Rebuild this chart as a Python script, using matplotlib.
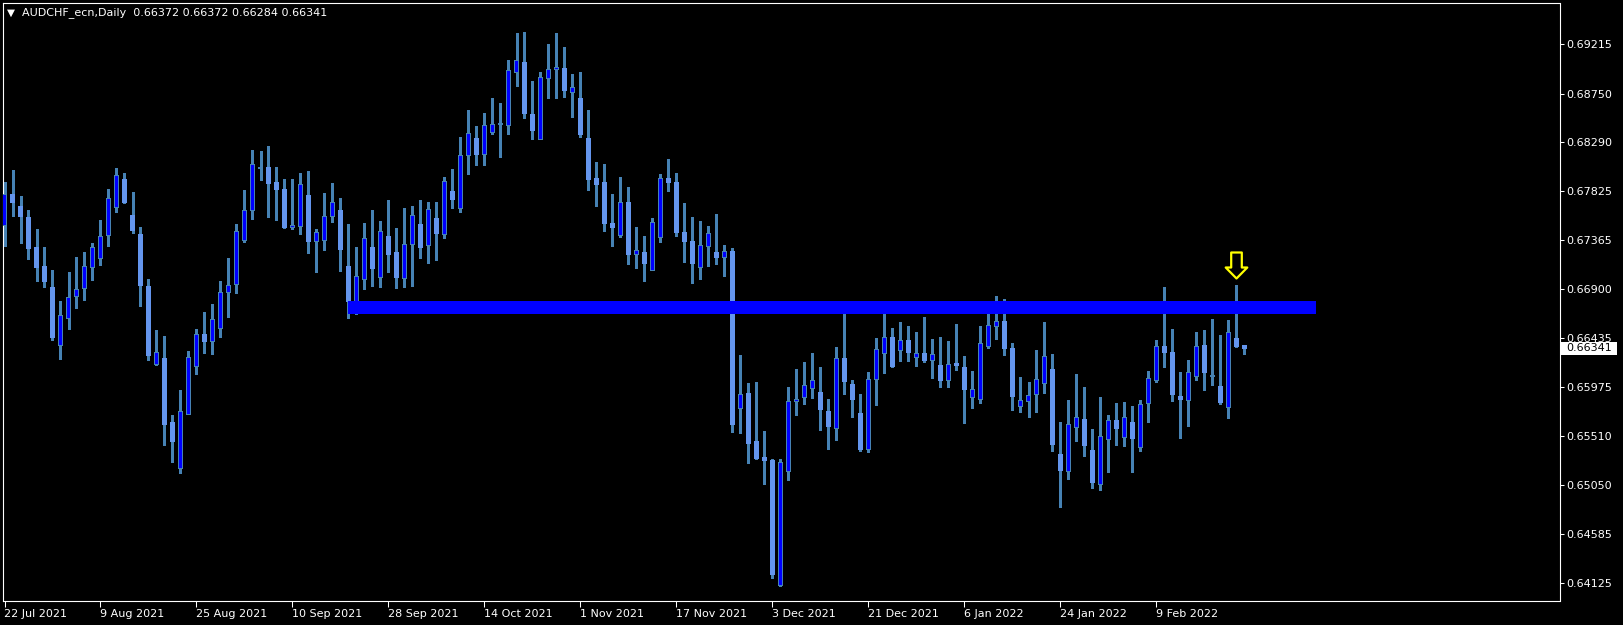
import numpy as np
import matplotlib
matplotlib.use("Agg")
import matplotlib.pyplot as plt
from matplotlib.patches import Rectangle
from matplotlib.path import Path
from matplotlib.transforms import IdentityTransform

symbol = "AUDCHF_ecn,Daily"

opens = [0.67501, 0.67792, 0.67687, 0.67583, 0.67290, 0.67119, 0.66921, 0.66370, 0.66621, 0.66830,
         0.66908, 0.67107, 0.67189, 0.67406, 0.67675, 0.67940, 0.67599, 0.67413, 0.66930, 0.66189,
         0.66246, 0.65641, 0.65208, 0.65716, 0.66170, 0.66473, 0.66408, 0.66530, 0.66871, 0.66946,
         0.67363, 0.67646, 0.68049, 0.68056, 0.67905, 0.67839, 0.67486, 0.67492, 0.67782, 0.67354,
         0.67363, 0.67589, 0.67646, 0.67119, 0.66782, 0.66994, 0.67297, 0.67013, 0.67403, 0.67243,
         0.67003, 0.67325, 0.67508, 0.67316, 0.67573, 0.67419, 0.67820, 0.67665, 0.68167, 0.68321,
         0.68176, 0.68380, 0.68466, 0.68447, 0.68952, 0.69040, 0.68557, 0.68318, 0.68895, 0.68980,
         0.68992, 0.68763, 0.68700, 0.68330, 0.67943, 0.67905, 0.67517, 0.67406, 0.67716, 0.67230,
         0.67249, 0.67079, 0.67387, 0.67943, 0.67911, 0.67441, 0.67347, 0.67107, 0.67306, 0.67249,
         0.67202, 0.67259, 0.65773, 0.65909, 0.65455, 0.65313, 0.65284, 0.64102, 0.65178, 0.65840,
         0.65878, 0.65959, 0.65925, 0.65745, 0.65581, 0.66249, 0.66003, 0.65729, 0.65382, 0.66046,
         0.66294, 0.66445, 0.66322, 0.66417, 0.66252, 0.66294, 0.66227, 0.66183, 0.66038, 0.66199,
         0.66161, 0.65878, 0.65855, 0.66357, 0.66549, 0.66590, 0.66344, 0.65789, 0.65836, 0.65906,
         0.66006, 0.66145, 0.65341, 0.65174, 0.65590, 0.65669, 0.65370, 0.65051, 0.65476, 0.65654,
         0.65495, 0.65635, 0.65401, 0.65817, 0.66034, 0.66354, 0.66297, 0.65881, 0.65845, 0.66073,
         0.66363, 0.66080, 0.65984, 0.65779, 0.66438, 0.66372]
highs = [0.67917, 0.68028, 0.67782, 0.67649, 0.67470, 0.67300, 0.67082, 0.66789, 0.67063, 0.67205,
         0.67252, 0.67338, 0.67555, 0.67848, 0.68046, 0.68000, 0.67820, 0.67486, 0.66994, 0.66514,
         0.66457, 0.65707, 0.65947, 0.66316, 0.66524, 0.66681, 0.66760, 0.66978, 0.67195, 0.67517,
         0.67839, 0.68217, 0.68208, 0.68255, 0.68056, 0.67943, 0.67943, 0.68000, 0.68019, 0.67470,
         0.67811, 0.67905, 0.67763, 0.67517, 0.67297, 0.67527, 0.67649, 0.67546, 0.67741, 0.67476,
         0.67668, 0.67687, 0.67741, 0.67725, 0.67725, 0.67962, 0.68037, 0.68340, 0.68595, 0.68444,
         0.68567, 0.68709, 0.68662, 0.69068, 0.69324, 0.69333, 0.68870, 0.68955, 0.69220, 0.69324,
         0.69192, 0.68936, 0.68955, 0.68595, 0.68103, 0.68084, 0.67804, 0.67962, 0.67867, 0.67489,
         0.67403, 0.67573, 0.67990, 0.68132, 0.68000, 0.67716, 0.67583, 0.67546, 0.67498, 0.67611,
         0.67319, 0.67287, 0.66278, 0.66013, 0.66022, 0.65559, 0.65293, 0.65293, 0.65975, 0.66145,
         0.66211, 0.66297, 0.66164, 0.65862, 0.66354, 0.66751, 0.66041, 0.65909, 0.66117, 0.66438,
         0.66732, 0.66533, 0.66590, 0.66552, 0.66495, 0.66637, 0.66429, 0.66448, 0.66411, 0.66571,
         0.66268, 0.66127, 0.66552, 0.66675, 0.66836, 0.66808, 0.66392, 0.66070, 0.66022, 0.66325,
         0.66590, 0.66287, 0.65644, 0.65852, 0.66098, 0.65975, 0.65578, 0.65881, 0.65710, 0.65824,
         0.65833, 0.65795, 0.65852, 0.66127, 0.66420, 0.66921, 0.66524, 0.66117, 0.66230, 0.66495,
         0.66514, 0.66618, 0.66467, 0.66609, 0.66940, 0.66372]
lows = [0.67309, 0.67595, 0.67340, 0.67189, 0.66980, 0.66924, 0.66420, 0.66240, 0.66524, 0.66725,
        0.66798, 0.66990, 0.67129, 0.67309, 0.67630, 0.67718, 0.67434, 0.66744, 0.66230, 0.66180,
        0.65430, 0.65265, 0.65162, 0.65716, 0.66101, 0.66299, 0.66290, 0.66451, 0.66640, 0.66867,
        0.67342, 0.67567, 0.67933, 0.67586, 0.67555, 0.67482, 0.67467, 0.67425, 0.67245, 0.67066,
        0.67274, 0.67539, 0.67075, 0.66630, 0.66662, 0.66905, 0.66933, 0.66924, 0.67066, 0.66908,
        0.66918, 0.66933, 0.67198, 0.67150, 0.67179, 0.67381, 0.67671, 0.67633, 0.67993, 0.68078,
        0.68078, 0.68371, 0.68154, 0.68371, 0.68825, 0.68522, 0.68324, 0.68318, 0.68712, 0.68712,
        0.68722, 0.68532, 0.68343, 0.67841, 0.67690, 0.67453, 0.67312, 0.67397, 0.67141, 0.67103,
        0.66980, 0.67079, 0.67350, 0.67832, 0.67406, 0.67160, 0.66961, 0.67000, 0.67122, 0.67141,
        0.67028, 0.65552, 0.65542, 0.65258, 0.65297, 0.65060, 0.64171, 0.64092, 0.65098, 0.65710,
        0.65817, 0.65874, 0.65571, 0.65392, 0.65476, 0.65912, 0.65694, 0.65372, 0.65363, 0.65808,
        0.66110, 0.66167, 0.66223, 0.66223, 0.66176, 0.66214, 0.66063, 0.65978, 0.65978, 0.66138,
        0.65637, 0.65779, 0.65826, 0.66347, 0.66429, 0.66278, 0.65757, 0.65741, 0.65691, 0.65738,
        0.65919, 0.65370, 0.64840, 0.65105, 0.65465, 0.65322, 0.65019, 0.65001, 0.65171, 0.65427,
        0.65417, 0.65171, 0.65372, 0.65644, 0.66025, 0.66167, 0.65843, 0.65492, 0.65606, 0.66041,
        0.65947, 0.65994, 0.65814, 0.65684, 0.66357, 0.66284]
closes = [0.67792, 0.67718, 0.67586, 0.67284, 0.67103, 0.66971, 0.66441, 0.66653, 0.66824, 0.66899,
          0.67116, 0.67297, 0.67400, 0.67760, 0.67978, 0.67718, 0.67453, 0.66933, 0.66271, 0.66303,
          0.65625, 0.65455, 0.65745, 0.66256, 0.66473, 0.66404, 0.66615, 0.66871, 0.66937, 0.67448,
          0.67646, 0.68081, 0.68049, 0.67898, 0.67841, 0.67482, 0.67505, 0.67892, 0.67350, 0.67438,
          0.67589, 0.67722, 0.67274, 0.66782, 0.67022, 0.67381, 0.67094, 0.67448, 0.67227, 0.67009,
          0.67325, 0.67599, 0.67293, 0.67656, 0.67425, 0.67921, 0.67747, 0.68167, 0.68375, 0.68173,
          0.68451, 0.68460, 0.68466, 0.68965, 0.69065, 0.68560, 0.68399, 0.68905, 0.68980, 0.68999,
          0.68778, 0.68810, 0.68359, 0.67936, 0.67889, 0.67520, 0.67482, 0.67722, 0.67227, 0.67268,
          0.67141, 0.67533, 0.67949, 0.67907, 0.67434, 0.67350, 0.67141, 0.67316, 0.67429, 0.67198,
          0.67259, 0.65619, 0.65906, 0.65439, 0.65303, 0.65277, 0.64200, 0.65265, 0.65840, 0.65859,
          0.65991, 0.66038, 0.65760, 0.65600, 0.66246, 0.66025, 0.65855, 0.65382, 0.66048, 0.66332,
          0.66445, 0.66167, 0.66417, 0.66299, 0.66294, 0.66223, 0.66284, 0.66034, 0.66189, 0.66176,
          0.65949, 0.65953, 0.66389, 0.66559, 0.66597, 0.66335, 0.65881, 0.65849, 0.65897, 0.66048,
          0.66265, 0.65427, 0.65181, 0.65622, 0.65688, 0.65420, 0.65076, 0.65511, 0.65654, 0.65578,
          0.65691, 0.65492, 0.65814, 0.66051, 0.66354, 0.66306, 0.65900, 0.65855, 0.66108, 0.66354,
          0.66110, 0.66080, 0.65833, 0.66495, 0.66357, 0.66341]

ytick_labels = ["0.69215", "0.68750", "0.68290", "0.67825", "0.67365", "0.66900",
                "0.66435", "0.65975", "0.65510", "0.65050", "0.64585", "0.64125"]
xtick_labels = ["22 Jul 2021", "9 Aug 2021", "25 Aug 2021", "10 Sep 2021", "28 Sep 2021",
                "14 Oct 2021", "1 Nov 2021", "17 Nov 2021", "3 Dec 2021", "21 Dec 2021",
                "6 Jan 2022", "24 Jan 2022", "9 Feb 2022"]
xtick_step = 12

zone_top, zone_bottom = 0.66790, 0.66668
zone_start, zone_end = 43, 164
arrow_bar, arrow_price = 154, 0.67126

# ---------------------------------------------------------------
W, H = 1623, 625
fig = plt.figure(figsize=(W / 100, H / 100), dpi=100, facecolor="black")
ax_l, ax_r, ax_t, ax_b = 2.5, 1559.5, 2.5, 601
ax = fig.add_axes([ax_l / W, 1 - ax_b / H, (ax_r - ax_l) / W, (ax_b - ax_t) / H])
ax.set_facecolor("black")
xmin = -0.25
xmax = xmin + (ax_r - ax_l) / 8.0
ax.set_xlim(xmin, xmax)
ax.set_ylim(0.63951, 0.69612)

# size of one screen pixel in data units
px_x = (xmax - xmin) / (ax_r - ax_l)
px_y = (0.69612 - 0.63951) / (ax_b - ax_t)

wick_c = "#4682B4"
bull_fill = "#0000FF"
bear_fill = "#6495ED"

x = np.arange(len(opens))
ax.vlines(x, lows, highs, color=wick_c, lw=0.75, zorder=2, antialiased=False)
body_w = 5 * px_x
for i, (o, c) in enumerate(zip(opens, closes)):
    lo, hi = min(o, c), max(o, c)
    if c > o:
        ax.add_patch(Rectangle((i - body_w / 2, lo - 0.5 * px_y), body_w, hi - lo + px_y,
                               facecolor=wick_c, edgecolor="none", zorder=3, antialiased=False))
        if hi - lo > px_y:
            ax.add_patch(Rectangle((i - body_w / 2 + px_x, lo + 0.5 * px_y), body_w - 2 * px_x,
                                   hi - lo - px_y, facecolor=bull_fill, edgecolor="none",
                                   zorder=3.5, antialiased=False))
    elif c < o:
        ax.add_patch(Rectangle((i - body_w / 2, lo - 0.5 * px_y), body_w, hi - lo + px_y,
                               facecolor=bear_fill, edgecolor="none", zorder=3, antialiased=False))
    else:
        ax.add_patch(Rectangle((i - body_w / 2, lo - px_y), body_w, 2 * px_y,
                               facecolor=wick_c, edgecolor="none", zorder=3, antialiased=False))

# support/resistance zone
ax.add_patch(Rectangle((zone_start, zone_bottom), zone_end - zone_start, zone_top - zone_bottom,
                       facecolor="#0000FF", edgecolor="none", zorder=4))

# down arrow marker
av = [(-5.3, 13), (5.3, 13), (5.3, -2), (10.8, -2), (0, -13), (-10.8, -2), (-5.3, -2), (-5.3, 13)]
ac = [Path.MOVETO] + [Path.LINETO] * 6 + [Path.CLOSEPOLY]
arrow_path = Path(av, ac)
ax.plot([arrow_bar], [arrow_price], marker=arrow_path, markersize=26 * 0.72,
        mfc="none", mec="#FFFF00", mew=1.6, ls="none", zorder=6)

# axes styling
for s in ax.spines.values():
    s.set_color("white")
    s.set_linewidth(0.8)

ax.yaxis.tick_right()
ax.set_yticks([float(s) for s in ytick_labels])
ax.set_yticklabels(ytick_labels)
ax.tick_params(axis="y", colors="white", direction="out", length=3, width=0.75,
               pad=2, labelsize=8)

ax.set_xticks(x[::xtick_step])
ax.set_xticklabels(xtick_labels, ha="left")
ax.tick_params(axis="x", colors="white", direction="out", length=4, width=0.75,
               pad=2, labelsize=8)

# current price box
yd = ax.transData.transform((0, closes[-1]))[1]
fig.add_artist(Rectangle((1561, yd - 6.5), 56, 13, transform=IdentityTransform(),
                         facecolor="white", edgecolor="none", zorder=5))
fig.text(1566, yd, f"{closes[-1]:.5f}", transform=IdentityTransform(), color="black",
         fontsize=8, va="center", ha="left", zorder=6)

# header
fig.text(11 / W, 1 - 12.5 / H, "\u25BC", color="white", fontsize=7.5, ha="center", va="center")
fig.text(22 / W, 1 - 13 / H,
         f"{symbol}  {opens[-1]:.5f} {highs[-1]:.5f} {lows[-1]:.5f} {closes[-1]:.5f}",
         color="white", fontsize=8, ha="left", va="center")

fig.savefig("out.png", dpi=100, facecolor="black")
